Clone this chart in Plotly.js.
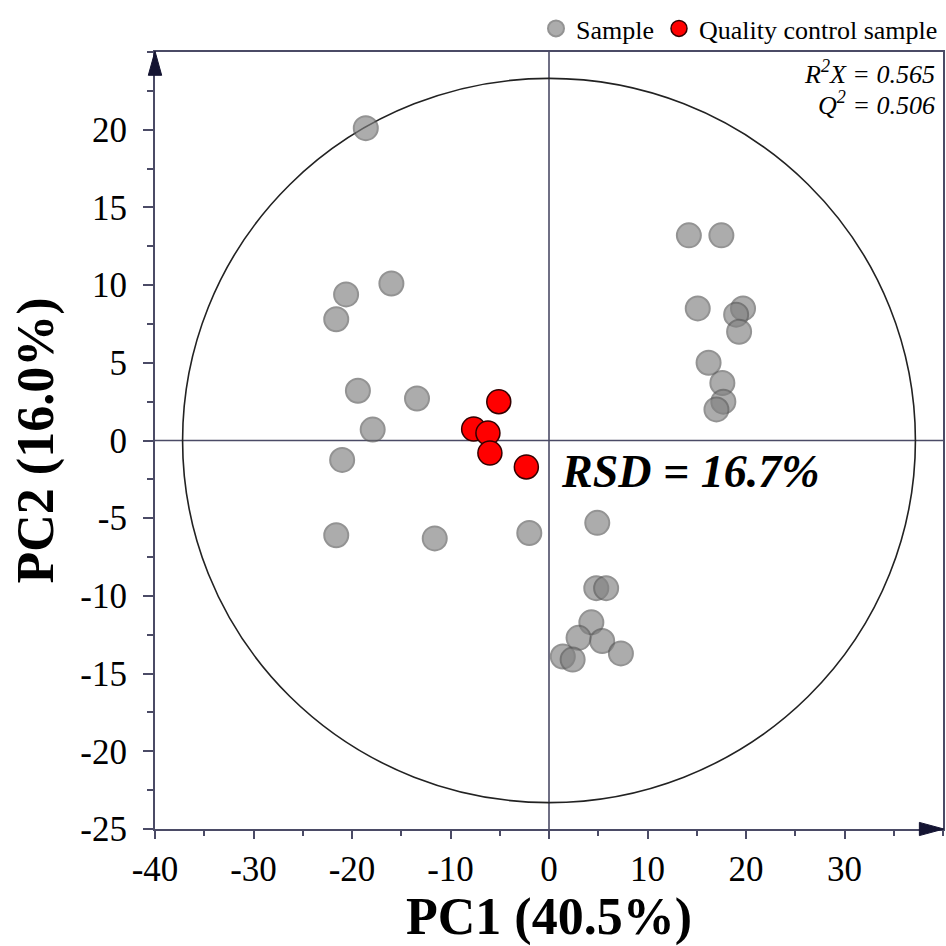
<!DOCTYPE html>
<html>
<head>
<meta charset="utf-8">
<script src="https://cdn.plot.ly/plotly-3.0.1.min.js"></script>
<style>html,body{margin:0;padding:0;background:#fff;}#chart{width:946px;height:946px;}</style>
</head>
<body>
<div id="chart"></div>
<script>
// Sample scores (PC1, PC2)
const sampleX = [-18.6, -20.6, -21.6, -16.0, -19.4, -13.4, -17.9, -21.0, -21.6, -11.6, -2.0,
                 4.9, 4.8, 5.8, 4.3, 3.0, 5.4, 7.3, 1.4, 2.4,
                 14.2, 17.5, 15.1, 19.7, 19.0, 19.3, 16.2, 17.6, 17.7, 17.0];
const sampleY = [20.1, 9.4, 7.8, 10.1, 3.2, 2.7, 0.7, -1.25, -6.1, -6.3, -5.95,
                 -5.3, -9.5, -9.5, -11.7, -12.7, -12.9, -13.7, -13.9, -14.1,
                 13.2, 13.2, 8.5, 8.5, 8.1, 7.0, 5.0, 3.7, 2.5, 2.0];
// Quality control sample scores
const qcX = [-5.1, -7.65, -6.2, -6.0, -2.3];
const qcY = [2.5, 0.74, 0.48, -0.8, -1.7];

const xTicks = [-40, -30, -20, -10, 0, 10, 20, 30];
const yTicks = [20, 15, 10, 5, 0, -5, -10, -15, -20, -25];
const xRange = [-40, 40];
const yRange = [-25, 25];
const ellipseRX = 37.2, ellipseRY = 23.3;

const serif = '"Liberation Serif", "Times New Roman", serif';
const lineCol = '#4b4b66';

const traces = [
  {
    x: sampleX, y: sampleY, type: 'scatter', mode: 'markers', name: 'Sample',
    marker: {size: 24, color: '#808080', opacity: 0.65, line: {color: '#5a5a5a', width: 2}},
    cliponaxis: false
  },
  {
    x: qcX, y: qcY, type: 'scatter', mode: 'markers', name: 'Quality control sample',
    marker: {size: 24, color: '#ff0000', line: {color: '#330000', width: 1.5}},
    cliponaxis: false
  }
];

const layout = {
  width: 946, height: 946,
  margin: {l: 155, r: 3, t: 52, b: 117},
  paper_bgcolor: '#ffffff', plot_bgcolor: '#ffffff',
  font: {family: serif, color: '#000000'},
  showlegend: true,
  legend: {
    orientation: 'h', x: 1.0, xanchor: 'right', y: 1.0, yanchor: 'bottom',
    font: {family: serif, size: 26, color: '#000'},
    itemsizing: 'trace', tracegroupgap: 0, itemwidth: 30,
    bgcolor: 'rgba(0,0,0,0)'
  },
  xaxis: {
    range: xRange, tickvals: xTicks, ticktext: xTicks.map(String),
    showgrid: false, zeroline: false,
    showline: true, linecolor: lineCol, linewidth: 2, mirror: true,
    ticks: 'outside', ticklen: 8, tickwidth: 2, tickcolor: lineCol,
    minor: {dtick: 5, ticks: 'outside', ticklen: 5, tickwidth: 2, tickcolor: lineCol, showgrid: false},
    tickfont: {family: serif, size: 35, color: '#000'},
    ticklabelstandoff: 0,
    title: {text: '<b>PC1 (40.5%)</b>', font: {family: serif, size: 52, color: '#000'}, standoff: 14}
  },
  yaxis: {
    range: yRange, tickvals: yTicks, ticktext: yTicks.map(String),
    showgrid: false, zeroline: false,
    showline: true, linecolor: lineCol, linewidth: 2, mirror: true,
    ticks: 'outside', ticklen: 10, tickwidth: 2, tickcolor: lineCol,
    minor: {dtick: 2.5, ticks: 'outside', ticklen: 6, tickwidth: 2, tickcolor: lineCol, showgrid: false},
    tickfont: {family: serif, size: 35, color: '#000'},
    ticklabelstandoff: 9,
    title: {text: '<b>PC2 (16.0%)</b>', font: {family: serif, size: 52, color: '#000'}, standoff: 10}
  },
  shapes: [
    {type: 'circle', xref: 'x', yref: 'y', x0: -ellipseRX, x1: ellipseRX, y0: -ellipseRY, y1: ellipseRY,
     line: {color: '#222222', width: 1.6}, layer: 'below'},
    {type: 'line', xref: 'x', yref: 'paper', x0: 0, x1: 0, y0: 0, y1: 1,
     line: {color: lineCol, width: 1.6}, layer: 'below'},
    {type: 'line', xref: 'paper', yref: 'y', x0: 0, x1: 1, y0: 0, y1: 0,
     line: {color: lineCol, width: 1.6}, layer: 'below'},
    // axis arrowheads
    {type: 'path', xref: 'paper', yref: 'paper', path: 'M 1.001,0 L 0.970,0.0085 L 0.970,-0.0085 Z',
     fillcolor: '#141432', line: {color: '#141432', width: 1}},
    {type: 'path', xref: 'paper', yref: 'paper', path: 'M 0,1.001 L 0.0085,0.970 L -0.0085,0.970 Z',
     fillcolor: '#141432', line: {color: '#141432', width: 1}}
  ],
  annotations: [
    {xref: 'paper', yref: 'paper', x: 0.9924, y: 0.974, xanchor: 'right', yanchor: 'middle', showarrow: false,
     text: '<i>R<sup>2</sup>X = 0.565</i>', font: {family: serif, size: 26, color: '#000'}},
    {xref: 'paper', yref: 'paper', x: 0.9924, y: 0.934, xanchor: 'right', yanchor: 'middle', showarrow: false,
     text: '<i>Q<sup>2</sup> = 0.506</i>', font: {family: serif, size: 26, color: '#000'}},
    {xref: 'x', yref: 'y', x: 1.0, y: -2.0, xanchor: 'left', yanchor: 'middle', showarrow: false,
     text: '<b><i>RSD = 16.7%</i></b>', font: {family: serif, size: 46, color: '#000'}}
  ]
};

Plotly.newPlot('chart', traces, layout, {displayModeBar: false, staticPlot: true});
</script>
</body>
</html>
